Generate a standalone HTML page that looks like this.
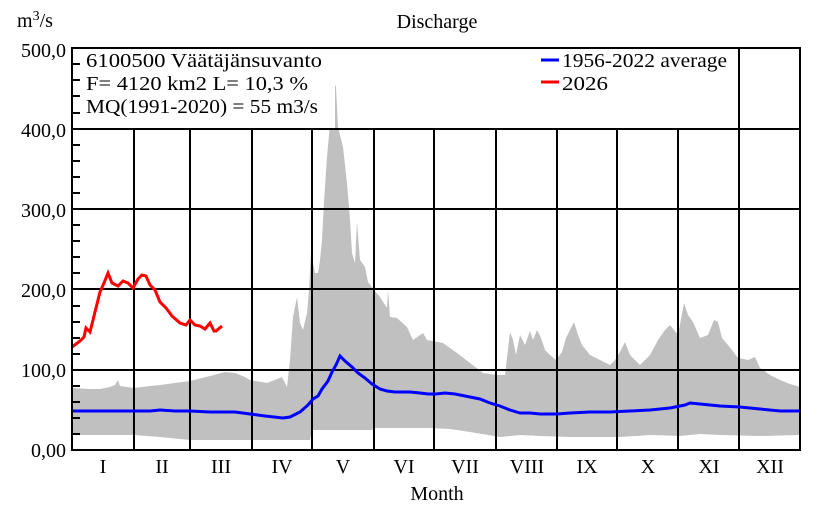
<!DOCTYPE html>
<html><head><meta charset="utf-8"><style>
body{margin:0;background:#fff;}
svg text{font-family:"Liberation Serif",serif;fill:#000;}
</style></head><body>
<svg width="840" height="520" viewBox="0 0 840 520" xmlns="http://www.w3.org/2000/svg">
<rect width="840" height="520" fill="#fff"/>
<polygon fill="#c0c0c0" points="72,388 90,389 100,389 110,387 115,385 118,380 120,386 134,388 150,386 160,385 175,383 190,381 210,376 225,372 235,373 245,377 250,380 267,383 282,377 287,387 290,360 293,317 297,297 300,323 303,330 307,313 309,290 311,252 315,273 318,273 320,260 322,240 324,202 327,157 329,135 332,93 333,80 336,87 338,127 343,147 347,183 350,220 352,253 355,263 357,222 360,260 365,267 368,282 374,290 380,297 387,308 388,290 390,317 397,318 407,327 413,340 423,333 427,340 443,343 457,353 470,363 483,373 497,375 505,375 510,332 513,340 516,355 520,335 525,345 530,331 533,340 537,330 541,338 545,350 550,355 556,360 562,352 566,338 570,330 574,322 578,335 582,345 590,355 600,360 610,365 615,360 620,352 625,342 630,355 640,365 650,355 658,340 665,330 670,325 678,335 684,303 688,315 693,322 700,338 708,335 714,320 718,322 722,338 728,345 738,358 748,360 755,357 760,368 770,375 780,380 790,384 800,387 800,435 760,436 720,435 700,434 680,436 650,435 620,437 600,437 570,437 540,436 520,435 500,437 470,432 450,429 430,428 400,428 374,428 372,430 340,430 312,430 310,440 280,440 254,440 220,440 190,440 160,437 134,435 100,435 72,435"/>
<g stroke="#000" stroke-width="2">
<line x1="72" y1="129" x2="800" y2="129"/>
<line x1="72" y1="209" x2="800" y2="209"/>
<line x1="72" y1="289" x2="800" y2="289"/>
<line x1="72" y1="370" x2="800" y2="370"/>
<line x1="134" y1="129" x2="134" y2="450"/>
<line x1="190" y1="129" x2="190" y2="450"/>
<line x1="252" y1="129" x2="252" y2="450"/>
<line x1="312" y1="129" x2="312" y2="450"/>
<line x1="374" y1="129" x2="374" y2="450"/>
<line x1="434" y1="129" x2="434" y2="450"/>
<line x1="496" y1="129" x2="496" y2="450"/>
<line x1="557" y1="129" x2="557" y2="450"/>
<line x1="617" y1="129" x2="617" y2="450"/>
<line x1="678" y1="129" x2="678" y2="450"/>
<line x1="739" y1="48" x2="739" y2="450"/>
</g>
<g stroke="#000" stroke-width="2">
<line x1="72" y1="434" x2="80" y2="434"/><line x1="72" y1="418" x2="80" y2="418"/><line x1="72" y1="402" x2="80" y2="402"/><line x1="72" y1="386" x2="80" y2="386"/>
<line x1="72" y1="354" x2="80" y2="354"/><line x1="72" y1="338" x2="80" y2="338"/><line x1="72" y1="322" x2="80" y2="322"/><line x1="72" y1="306" x2="80" y2="306"/>
<line x1="72" y1="273" x2="80" y2="273"/><line x1="72" y1="257" x2="80" y2="257"/><line x1="72" y1="241" x2="80" y2="241"/><line x1="72" y1="225" x2="80" y2="225"/>
<line x1="72" y1="193" x2="80" y2="193"/><line x1="72" y1="177" x2="80" y2="177"/><line x1="72" y1="161" x2="80" y2="161"/><line x1="72" y1="145" x2="80" y2="145"/>
</g>
<polyline fill="none" stroke="#0000ff" stroke-width="3" points="72,411 150,411 160,410 175,411 190,411 210,412 235,412 250,414 265,416 283,418 290,417 300,412 308,405 313,399 318,396 322,389 328,381 332,372 336,365 340,356 345,361 352,367 358,373 365,378 372,384 380,389 387,391 395,392 410,392 420,393 428,394 436,394 445,393 455,394 470,397 480,399 490,403 500,406 510,410 520,413 530,413 540,414 550,414 557,414 570,413 590,412 610,412 630,411 650,410 670,408 685,405 690,403 700,404 720,406 740,407 760,409 780,411 800,411"/>
<polyline fill="none" stroke="#ff0000" stroke-width="3" points="72,347 80,341 84,337 86,328 90,332 96,308 100,292 104,283 108,273 112,283 118,286 123,281 128,283 133,288 138,279 142,275 146,276 150,285 155,290 160,302 166,308 172,316 180,323 186,325 190,320 195,325 200,326 205,329 210,323 214,331 216,331 222,326"/>
<rect x="73" y="49" width="262" height="79" fill="#fff"/>
<g stroke="#000" stroke-width="2">
<line x1="72" y1="64" x2="80" y2="64"/><line x1="72" y1="80" x2="80" y2="80"/><line x1="72" y1="96" x2="80" y2="96"/><line x1="72" y1="113" x2="80" y2="113"/>
</g>
<text x="86" y="67" font-size="20" textLength="236" lengthAdjust="spacingAndGlyphs">6100500 Väätäjänsuvanto</text>
<text x="86" y="90" font-size="20" textLength="222" lengthAdjust="spacingAndGlyphs">F=  4120 km2 L=  10,3 %</text>
<text x="86" y="113" font-size="20" textLength="232" lengthAdjust="spacingAndGlyphs">MQ(1991-2020) = 55 m3/s</text>
<rect x="528" y="49" width="205" height="48" fill="#fff"/>
<line x1="541" y1="60" x2="559" y2="60" stroke="#0000ff" stroke-width="3"/>
<text x="562" y="67" font-size="20" textLength="165" lengthAdjust="spacingAndGlyphs">1956-2022 average</text>
<line x1="541" y1="82" x2="559" y2="82" stroke="#ff0000" stroke-width="3"/>
<text x="562" y="90" font-size="20" textLength="46" lengthAdjust="spacingAndGlyphs">2026</text>
<rect x="72" y="48" width="728" height="402" fill="none" stroke="#000" stroke-width="2"/>
<g font-size="20" text-anchor="end">
<text x="66" y="57">500,0</text>
<text x="66" y="137">400,0</text>
<text x="66" y="217">300,0</text>
<text x="66" y="297">200,0</text>
<text x="66" y="377">100,0</text>
<text x="66" y="457">0,00</text>
</g>
<text x="17" y="27" font-size="20">m<tspan font-size="14" dy="-7">3</tspan><tspan dy="7">/s</tspan></text>
<text x="437" y="28" font-size="20" text-anchor="middle">Discharge</text>
<g font-size="20" text-anchor="middle">
<text x="103" y="473">I</text><text x="162" y="473">II</text><text x="221" y="473">III</text>
<text x="282" y="473">IV</text><text x="343" y="473">V</text><text x="404" y="473">VI</text>
<text x="465" y="473">VII</text><text x="527" y="473">VIII</text><text x="587" y="473">IX</text>
<text x="648" y="473">X</text><text x="709" y="473">XI</text><text x="770" y="473">XII</text>
</g>
<text x="437" y="500" font-size="20" text-anchor="middle">Month</text>
</svg>
</body></html>
